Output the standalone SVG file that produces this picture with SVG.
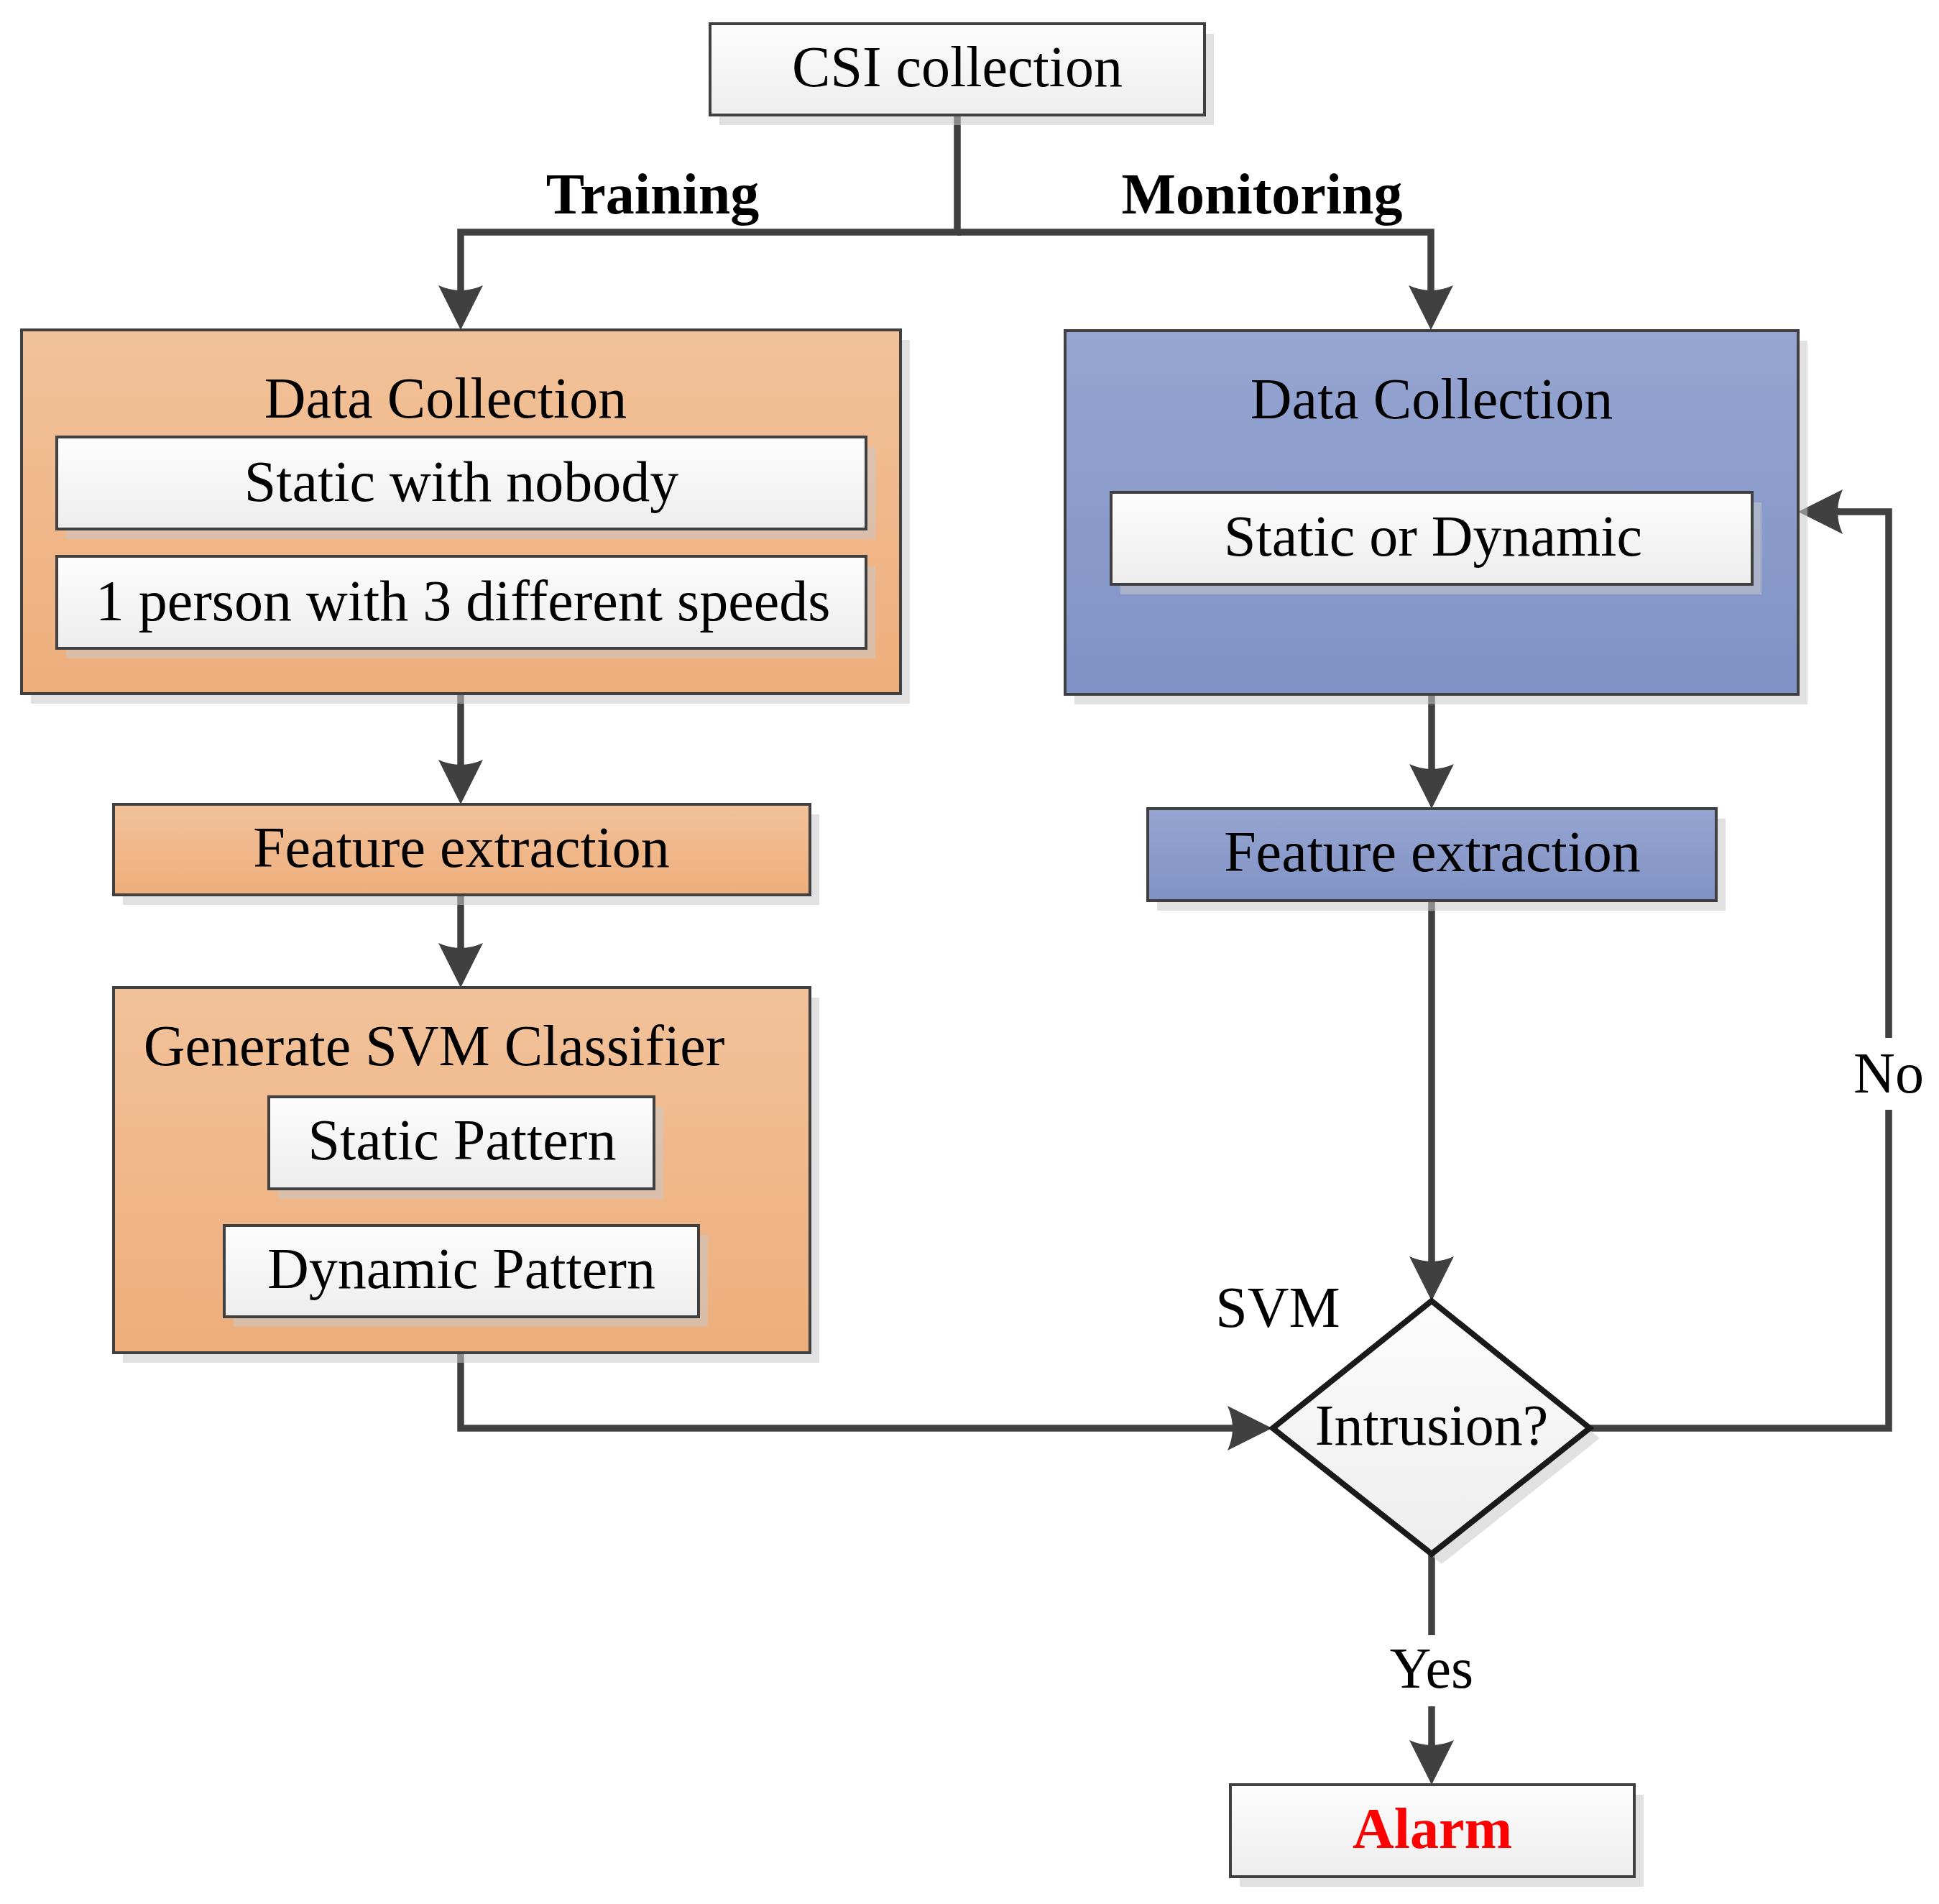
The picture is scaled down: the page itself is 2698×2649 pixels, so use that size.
<svg xmlns="http://www.w3.org/2000/svg" width="2698" height="2649" viewBox="0 0 2698 2649">
<style>
.t{font-family:"Liberation Serif","Times New Roman",serif;font-size:80px;fill:#000;text-anchor:middle}
.b{font-weight:bold}
.sh{fill:#c8c8c8;fill-opacity:.55}
.bx{stroke:#404040;stroke-width:4}
.w{fill:url(#gw)}
.o{fill:url(#go)}
.bl{fill:url(#gb)}
.ln{fill:none;stroke:#404040;stroke-width:9.5;stroke-linejoin:miter}
.ar{marker-end:url(#ah)}
</style>
<defs>
<linearGradient id="gw" x1="0" y1="0" x2="0" y2="1"><stop offset="0" stop-color="#fdfdfd"/><stop offset="1" stop-color="#ededed"/></linearGradient>
<linearGradient id="go" x1="0" y1="0" x2="0" y2="1"><stop offset="0" stop-color="#f2c29a"/><stop offset="1" stop-color="#eeae7c"/></linearGradient>
<linearGradient id="gb" x1="0" y1="0" x2="0" y2="1"><stop offset="0" stop-color="#96a5d1"/><stop offset="1" stop-color="#8092c6"/></linearGradient>
<marker id="ah" viewBox="-20 -33 68 66" markerWidth="68" markerHeight="66" refX="0" refY="0" markerUnits="userSpaceOnUse" orient="auto">
<path d="M45,0 L-17,-31 Q-3,0 -17,31 Z" fill="#404040"/>
</marker>
</defs>

<g id="connectors">
<path class="ln ar" d="M1332,160 V323 H641 V414"/>
<path class="ln ar" d="M1332,323 H1991 V414"/>
<path class="ln ar" d="M641,965 V1074"/>
<path class="ln ar" d="M641,1245 V1329"/>
<path class="ln ar" d="M1992,966 V1080"/>
<path class="ln ar" d="M1992,1253 V1765"/>
<path class="ln ar" d="M641,1882 V1987 H1725"/>
<path class="ln" d="M2211,1987 H2628 V1544"/>
<path class="ln ar" d="M2628,1444 V712 H2547"/>
<path class="ln" d="M1992,2162 V2275"/>
<path class="ln ar" d="M1992,2374 V2438"/>
</g>

<g id="labels">
<text class="t b" x="908" y="297">Training</text>
<text class="t b" x="1756" y="297">Monitoring</text>
<text class="t" x="2628" y="1520">No</text>
<text class="t" x="1992" y="2348">Yes</text>
<text class="t" x="1778" y="1846">SVM</text>
</g>

<g id="csi">
<rect class="sh" x="1001" y="47" width="688" height="127"/>
<rect class="bx w" x="988" y="33" width="688" height="127"/>
<text class="t" x="1332" y="120">CSI collection</text>
</g>

<g id="train-data">
<rect class="sh" x="43" y="473" width="1223" height="506"/>
<rect class="bx o" x="30" y="459" width="1223" height="506"/>
<text class="t" x="620" y="581">Data Collection</text>
<g id="static-nobody">
<rect class="sh" x="92" y="622" width="1126" height="128"/>
<rect class="bx w" x="79" y="608" width="1126" height="128"/>
<text class="t" x="642" y="697">Static with nobody</text>
</g>
<g id="one-person">
<rect class="sh" x="92" y="788" width="1126" height="128"/>
<rect class="bx w" x="79" y="774" width="1126" height="128"/>
<text class="t" x="644" y="863">1 person with 3 different speeds</text>
</g>
</g>

<g id="train-feature">
<rect class="sh" x="171" y="1133" width="969" height="126"/>
<rect class="bx o" x="158" y="1119" width="969" height="126"/>
<text class="t" x="642" y="1206">Feature extraction</text>
</g>

<g id="svm-gen">
<rect class="sh" x="171" y="1388" width="969" height="508"/>
<rect class="bx o" x="158" y="1374" width="969" height="508"/>
<text class="t" x="604" y="1482">Generate SVM Classifier</text>
<g id="static-pattern">
<rect class="sh" x="387" y="1540" width="536" height="128"/>
<rect class="bx w" x="374" y="1526" width="536" height="128"/>
<text class="t" x="643" y="1613">Static Pattern</text>
</g>
<g id="dynamic-pattern">
<rect class="sh" x="325" y="1719" width="660" height="127"/>
<rect class="bx w" x="312" y="1705" width="660" height="127"/>
<text class="t" x="642" y="1792">Dynamic Pattern</text>
</g>
</g>

<g id="mon-data">
<rect class="sh" x="1495" y="474" width="1020" height="506"/>
<rect class="bx bl" x="1482" y="460" width="1020" height="506"/>
<text class="t" x="1992" y="582">Data Collection</text>
<g id="static-dynamic">
<rect class="sh" x="1559" y="699" width="892" height="128"/>
<rect class="bx w" x="1546" y="685" width="892" height="128"/>
<text class="t" x="1994" y="773">Static or Dynamic</text>
</g>
</g>

<g id="mon-feature">
<rect class="sh" x="1610" y="1139" width="791" height="128"/>
<rect class="bx bl" x="1597" y="1125" width="791" height="128"/>
<text class="t" x="1993" y="1212">Feature extraction</text>
</g>

<g id="decision">
<path class="sh" d="M2006,1824 L2226,2001 L2006,2176 L1786,2001 Z"/>
<path d="M1992,1810 L2212,1987 L1992,2162 L1771,1987 Z" fill="url(#gw)" stroke="#1a1a1a" stroke-width="8" stroke-linejoin="miter"/>
<text class="t" x="1992" y="2010">Intrusion?</text>
</g>

<g id="alarm">
<rect class="sh" x="1725" y="2497" width="562" height="128"/>
<rect class="bx w" x="1712" y="2483" width="562" height="128"/>
<text class="t b" x="1993" y="2571" fill="#ff0000" style="fill:#ff0000">Alarm</text>
</g>
</svg>
